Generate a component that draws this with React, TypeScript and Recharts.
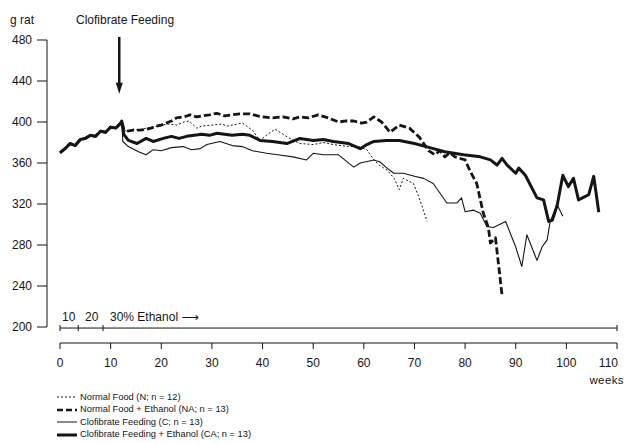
import React from "react";
import { LineChart, Line, XAxis, YAxis, ReferenceLine, ReferenceDot } from "recharts";

// ---- axis ticks ----
const xTicks = [0, 10, 20, 30, 40, 50, 60, 70, 80, 90, 100, 110];
const yTicks = [200, 240, 280, 320, 360, 400, 440, 480];

// ---- common pre-treatment segment (weeks 0-12) ----
const baseWeeks = [0, 1, 2, 3, 4, 5, 6, 7, 8, 9, 10, 11, 12, 12.2];
const baseValues = [370, 374, 379, 377, 383, 384, 387, 386, 391, 390, 395, 394, 399, 401];

// ---- Normal Food (N) ----
const nWeeks = [12.6, 13.2, 14.5, 15.8, 17, 18.5, 19.8, 21.7, 23, 24.5, 25.5, 27, 28, 30, 32, 33, 36, 38, 39.5, 41, 42.5, 45, 47.4, 50, 52, 54, 57, 59, 60.6, 62, 63, 64.6, 66, 67, 67.8, 69, 69.8, 71, 72.5];
const nValues = [392, 391, 393, 392, 394, 395, 397, 398, 397, 400, 401, 394, 396, 397, 398, 396, 399, 392, 382, 388, 393, 385, 379, 378, 380, 378, 376, 376, 373, 363, 358, 353, 345, 334, 345, 342, 340, 325, 303];

// ---- Normal Food + Ethanol (NA) ----
const naWeeks = [12.6, 13.2, 14.5, 15.8, 17, 18, 19, 20, 21, 22, 23, 24.5, 25.7, 27, 28, 29.5, 31, 32.5, 34, 35.5, 37.5, 39, 40, 42, 44, 46, 47.4, 49, 51, 53, 55, 56.5, 58, 59.5, 60.6, 62, 63.5, 65.2, 67, 69, 71, 72.8, 74, 75, 76, 77, 78, 80, 81, 82.3, 83.6, 84.6, 85, 86, 87.3];
const naValues = [393, 391, 392, 392, 393, 394, 396, 397, 399, 401, 404, 405, 407, 405, 406, 407, 408.5, 406, 407, 408, 408, 406, 405, 404, 405, 403, 405, 404, 407, 404, 400, 401, 401, 399, 400, 405, 400, 390, 397, 394, 385, 372, 368, 372, 366, 370, 366, 363, 352, 340, 311, 297, 282, 287, 231];

// ---- Clofibrate Feeding (C) ----
const cWeeks = [12.4, 13.5, 15.5, 17, 18.4, 20, 22, 24.3, 26, 27.7, 29, 31.6, 34, 36, 38, 40.8, 43, 46, 48.7, 50, 52, 55, 58, 59.3, 62, 63.2, 64.6, 65.9, 67.8, 70, 71.8, 73.7, 76.4, 78.4, 79.3, 80, 81.7, 83, 84.3, 85.6, 88, 90, 91.2, 92.2, 94.2, 95.2, 96.2, 96.8, 98.2, 99.3];
const cValues = [381, 376, 371, 368, 373, 372, 375, 376, 373, 374, 378, 381, 377, 376, 372, 369.5, 368, 366, 363, 369.5, 368, 368, 356, 360, 363, 361, 355, 350, 350, 347, 345, 340, 321, 321, 326, 312.5, 314, 311, 298, 297, 303, 278, 259, 290, 265, 278, 285, 303, 319, 308];

// ---- Clofibrate Feeding + Ethanol (CA) ----
const caWeeks = [12.6, 13.5, 15.2, 17, 18.4, 20.4, 22, 23.5, 25, 26.5, 28, 29.5, 31, 32.5, 34, 36, 37.5, 39.5, 42, 44.8, 47.4, 50, 52, 54, 57, 59.3, 60.6, 62, 64.5, 67, 70, 73, 76, 79.7, 83, 85, 86.3, 87.3, 88.3, 90, 90.6, 91.9, 94.2, 95.5, 96.5, 97.2, 98.2, 99.3, 100.4, 101.4, 102.4, 104.4, 105.4, 106.4];
const caValues = [388, 382, 379, 384, 381, 384, 386, 384, 386, 387, 388, 387, 389, 388, 387, 388, 387, 382, 381, 379, 384, 382, 383, 381, 379, 374, 378, 381, 382, 382, 379, 375, 371, 368, 366, 363, 358, 364.6, 358, 350, 355, 348, 326, 324, 303, 304, 319, 348, 337, 345, 324, 329, 347, 312];

// ---- ethanol schedule bar ----
const ethanolLevel = 199;
const ethanolTickWeeks = [0, 3.6, 8.5, 110];
const feedingStartWeek = 11.7;

const legendItems = [
  { label: "Normal Food (N; n = 12)", width: 1, dash: "2 2" },
  { label: "Normal Food + Ethanol (NA; n = 13)", width: 2.6, dash: "6 3" },
  { label: "Clofibrate Feeding (C; n = 13)", width: 1, dash: "" },
  { label: "Clofibrate Feeding + Ethanol (CA; n = 13)", width: 3, dash: "" },
];

const build = (w: number[], v: number[]) =>
  [...baseWeeks, ...w].map((week, i) => ({ w: week, v: i < baseWeeks.length ? baseValues[i] : v[i - baseWeeks.length] }));

const dataN = build(nWeeks, nValues);
const dataNA = build(naWeeks, naValues);
const dataC = build(cWeeks, cValues);
const dataCA = build(caWeeks, caValues);

const FONT = "'Liberation Sans', Arial, sans-serif";
const INK = "#151515";

const XTick = (props: any) => {
  const { x, y, payload } = props;
  const last = payload.value === 110;
  return (
    <text x={last ? x + 1 : x} y={y} dy="0.71em" textAnchor={last ? "end" : "middle"} fontSize={12} fontFamily={FONT} fill={INK}>
      {payload.value}
    </text>
  );
};

const YTick = (props: any) => {
  const { x, y, payload } = props;
  return (
    <text x={x} y={y} dy="0.36em" textAnchor="end" fontSize={12} fontFamily={FONT} fill={INK}>
      {payload.value}
    </text>
  );
};

const ArrowHead = (p: any) => (
  <path d={`M${p.cx - 3.5},${p.cy - 10} L${p.cx + 3.5},${p.cy - 10} L${p.cx},${p.cy + 1} Z`} fill={INK} />
);

export default function App() {
  const txt: React.CSSProperties = { position: "absolute", fontFamily: FONT, color: INK, whiteSpace: "nowrap", lineHeight: 1 };
  return (
    <div style={{ position: "absolute", left: 0, top: 0, width: 626, height: 443, background: "#fff" }}>
      <LineChart width={626} height={443} margin={{ top: 40, right: 9, bottom: 70, left: 0 }}>
        <XAxis
          dataKey="w"
          type="number"
          domain={[-2.57, 110]}
          ticks={xTicks}
          allowDataOverflow
          axisLine={false}
          tickLine={{ stroke: INK }}
          tickSize={6}
          tickMargin={9}
          height={30}
          tick={<XTick />}
          interval={0}
        />
        <YAxis
          type="number"
          domain={[184.4, 480]}
          ticks={yTicks}
          allowDataOverflow
          axisLine={false}
          tickLine={{ stroke: INK }}
          tickSize={10}
          tickMargin={5}
          width={47}
          tick={<YTick />}
          interval={0}
        />
        {/* axis lines */}
        <ReferenceLine segment={[{ x: -2.57, y: 200 }, { x: -2.57, y: 480 }]} stroke={INK} strokeWidth={1} ifOverflow="visible" />
        <ReferenceLine segment={[{ x: 0, y: 184.4 }, { x: 110, y: 184.4 }]} stroke={INK} strokeWidth={1} ifOverflow="visible" />
        {/* ethanol schedule */}
        <ReferenceLine segment={[{ x: 0, y: ethanolLevel }, { x: 110, y: ethanolLevel }]} stroke={INK} strokeWidth={1} ifOverflow="visible" />
        {ethanolTickWeeks.map((w) => (
          <ReferenceLine key={w} segment={[{ x: w, y: ethanolLevel - 3 }, { x: w, y: ethanolLevel + 3 }]} stroke={INK} strokeWidth={1} ifOverflow="visible" />
        ))}
        {/* feeding arrow */}
        <ReferenceLine segment={[{ x: feedingStartWeek, y: 483 }, { x: feedingStartWeek, y: 436 }]} stroke={INK} strokeWidth={2.5} ifOverflow="visible" />
        <ReferenceDot x={feedingStartWeek} y={428.5} r={0} shape={ArrowHead} ifOverflow="visible" />

        <Line data={dataC} dataKey="v" stroke={INK} strokeWidth={1.1} dot={false} isAnimationActive={false} strokeLinejoin="round" />
        <Line data={dataN} dataKey="v" stroke={INK} strokeWidth={1} strokeDasharray="2 2" dot={false} isAnimationActive={false} />
        <Line data={dataNA} dataKey="v" stroke={INK} strokeWidth={2.8} strokeDasharray="7 3" dot={false} isAnimationActive={false} strokeLinejoin="round" />
        <Line data={dataCA} dataKey="v" stroke={INK} strokeWidth={3} dot={false} isAnimationActive={false} strokeLinejoin="round" />
      </LineChart>

      <div style={{ ...txt, left: 10, top: 14, fontSize: 12 }}>g rat</div>
      <div style={{ ...txt, left: 76, top: 14, fontSize: 12 }}>Clofibrate Feeding</div>
      <div style={{ ...txt, left: 62, top: 311, fontSize: 12 }}>10</div>
      <div style={{ ...txt, left: 85, top: 311, fontSize: 12 }}>20</div>
      <div style={{ ...txt, left: 110, top: 311, fontSize: 12 }}>30% Ethanol <span style={{ fontFamily: "'DejaVu Sans'" }}>⟶</span></div>
      <div style={{ ...txt, right: 2, top: 375, fontSize: 11.5, letterSpacing: 0.4 }}>weeks</div>

      <div style={{ position: "absolute", left: 57, top: 391 }}>
        {legendItems.map((it) => (
          <div key={it.label} style={{ display: "flex", alignItems: "center", height: 12.5 }}>
            <svg width={20} height={8} style={{ marginRight: 3 }}>
              <line x1={0} y1={4} x2={20} y2={4} stroke={INK} strokeWidth={it.width} strokeDasharray={it.dash} />
            </svg>
            <span style={{ fontFamily: FONT, fontSize: 9.3, color: INK, whiteSpace: "nowrap", lineHeight: 1 }}>{it.label}</span>
          </div>
        ))}
      </div>
    </div>
  );
}
